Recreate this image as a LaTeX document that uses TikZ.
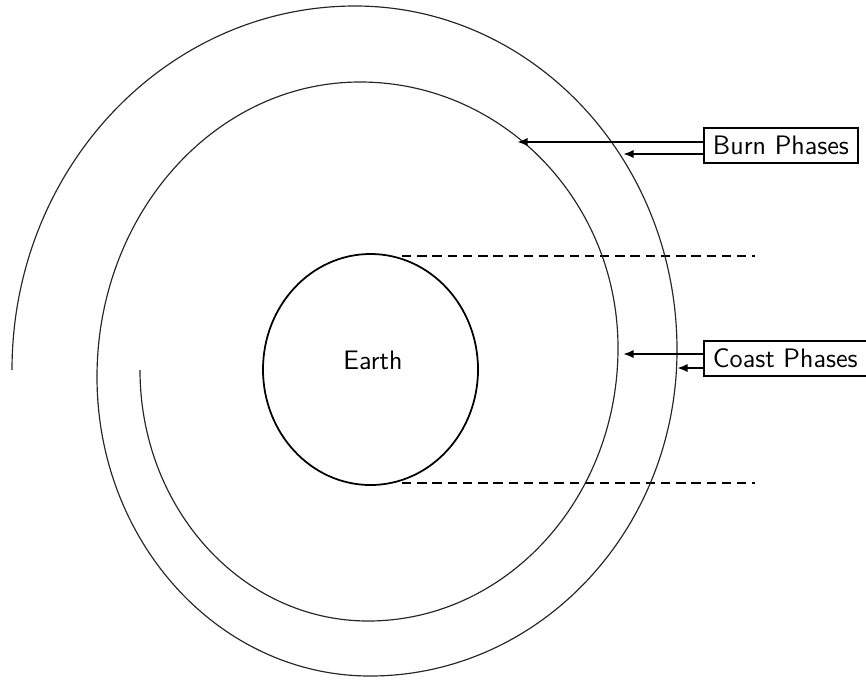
\documentclass[tikz,border=0pt]{standalone}
\usepackage{tikz}
\usetikzlibrary{shapes.geometric,arrows.meta,positioning,calc}

\begin{document}
\begin{tikzpicture}[
    x=0.015cm, y=0.015cm,
    orbit/.style={line width=0.5pt, black!85},
    planet/.style={ellipse, draw=black, line width=0.75pt, minimum width=3.225cm, minimum height=3.465cm, inner sep=0pt},
    phasebox/.style={rectangle, draw=black, line width=0.9pt, minimum height=0.53cm, inner xsep=3.8pt, text centered, font=\sffamily\fontsize{11.4}{14}\selectfont, anchor=west},
    label/.style={font=\sffamily\fontsize{11.4}{14}\selectfont},
    arrow/.style={line width=0.85pt, -{Latex[length=4.5pt, width=3.5pt]}},
    dashline/.style={line width=1pt, dash pattern=on 4pt off 2.5pt}
]
    \useasboundingbox (0,0) rectangle (866,681);

    % Earth and its shadow limits
    \node[planet] (earth) at (370.5,311.5) {};
    \node[label] (earth_txt) at (373,321) {Earth};
    \coordinate (dash_top) at (755,425);
    \coordinate (dash_bot) at (755,198);
    \draw[dashline] (402,0 |- dash_top) -- (dash_top);
    \draw[dashline] (402,0 |- dash_bot) -- (dash_bot);

    % Spiral trajectory, quarter by quarter
    \draw[orbit] (140,311)
        arc[start angle=180, end angle=270, x radius=228, y radius=251]
        arc[start angle=270, end angle=360, x radius=250, y radius=273]
        arc[start angle=0,   end angle=90,  x radius=258, y radius=266]
        arc[start angle=90,  end angle=180, x radius=263, y radius=295]
        arc[start angle=180, end angle=270, x radius=273, y radius=299]
        arc[start angle=270, end angle=360, x radius=307, y radius=326]
        arc[start angle=0,   end angle=90,  x radius=322, y radius=344]
        arc[start angle=90,  end angle=180, x radius=343, y radius=364];

    % Labels
    \node[phasebox] (burn)  at (703,535.5) {Burn Phases};
    \node[phasebox] (coast) at (703,322.5) {Coast Phases};

    % Arrow ends on the orbit
    \coordinate (burn_in)   at (517,539);
    \coordinate (burn_out)  at (623,527);
    \coordinate (coast_in)  at (623,327);
    \coordinate (coast_out) at (677,313);

    \draw[arrow] (burn.west |- burn_in) -- (burn_in);
    \draw[arrow] (burn.west |- burn_out) -- (burn_out);
    \draw[arrow] (coast.west |- coast_in) -- (coast_in);
    \draw[arrow] (coast.west |- coast_out) -- (coast_out);

\end{tikzpicture}
\end{document}
